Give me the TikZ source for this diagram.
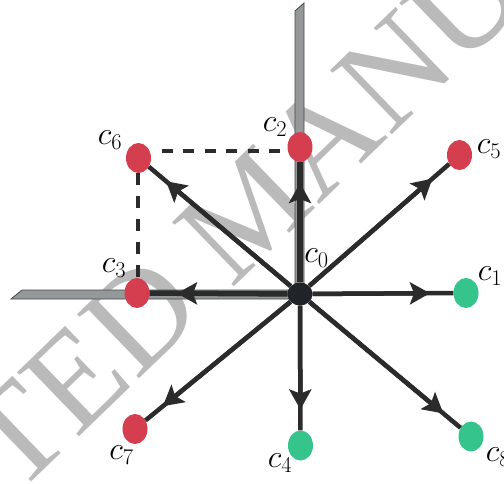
\RequirePackage{fix-cm}
\documentclass[tikz,border=0pt]{standalone}
\usepackage{fontspec}
\newfontfamily\wmfont{Liberation Serif}
\usetikzlibrary{shapes.geometric,arrows.meta,calc}
\definecolor{nodered}{RGB}{212,62,79}
\definecolor{nodegreen}{RGB}{52,196,140}
\definecolor{centerdark}{RGB}{32,36,40}
\definecolor{linedark}{RGB}{43,43,43}
\definecolor{barfill}{RGB}{148,152,152}
\definecolor{baredge}{RGB}{70,72,72}
\definecolor{wmgray}{RGB}{186,186,186}
\begin{document}
\begin{tikzpicture}[x=1pt,y=-1pt,
  dot/.style={ellipse, inner sep=0pt, minimum width=25pt, minimum height=30pt},
  reddot/.style={dot, fill=nodered},
  greendot/.style={dot, fill=nodegreen},
  lbl/.style={inner sep=0pt, font=\fontsize{32}{36}\selectfont},
  spoke/.style={draw=linedark, line width=4.5pt},
  thickspoke/.style={draw=linedark, line width=5.5pt},
  tipline/.style={draw=linedark, line width=4.5pt, -{Stealth[length=20pt,width=22pt,inset=4pt]}},
  dashline/.style={draw=linedark, line width=4pt},
  bar/.style={fill=barfill, draw=baredge, line width=0.8pt},
]
\useasboundingbox (0,0) rectangle (504,483);
% watermark
\node[rotate=44, text=wmgray, font=\wmfont\fontsize{136}{136}\selectfont, inner sep=0pt] (wm) at (251,209) {ACCEPTED MANUSCRIPT};
% gray bars
\draw[bar] (295,11) -- (304,3) -- (304,294) -- (295,294) -- cycle;
\draw[bar] (22,290) -- (300,290) -- (300,299) -- (11,299) -- cycle;
% nodes
\node[dot, fill=centerdark, minimum width=25pt, minimum height=23pt] (c0) at (300,294) {};
\node[greendot] (c1) at (466,293) {};
\node[reddot] (c2) at (300,147) {};
\node[reddot] (c3) at (137,293) {};
\node[greendot] (c4) at (300.5,445.5) {};
\node[reddot] (c5) at (459.5,155) {};
\node[reddot] (c6) at (138.5,158) {};
\node[reddot] (c7) at (135,429) {};
\node[greendot] (c8) at (471,436.5) {};
% labels
\node[lbl] (l0) at (316.5,258.5) {$c_{0}$};
\node[lbl] (l1) at (490,276.5) {$c_{1}$};
\node[lbl] (l2) at (275,127.5) {$c_{2}$};
\node[lbl] (l3) at (114,268.5) {$c_{3}$};
\node[lbl] (l4) at (280,463) {$c_{4}$};
\node[lbl] (l5) at (489,149.5) {$c_{5}$};
\node[lbl] (l6) at (110,140.5) {$c_{6}$};
\node[lbl] (l7) at (121.5,455) {$c_{7}$};
\node[lbl] (l8) at (498,457.5) {$c_{8}$};
% arrow tip positions
\foreach \i in {1,2,4,5,6,7,8} {
  \coordinate (t\i) at ($(c\i.center)!36pt!(c0.center)$);
}
\coordinate (t3) at ($(c3.center)!40pt!(c0.center)$);
% spokes
\foreach \i in {1,4,5,6,7,8} {
  \draw[spoke] (c0) -- (c\i);
  \draw[tipline] (c0) -- (t\i);
}
\foreach \i in {2,3} {
  \draw[thickspoke] (c0) -- (c\i);
  \draw[tipline] (c0) -- (t\i);
}
% dashed guides
\draw[dashline, dash pattern=on 11pt off 10.5pt, dash phase=11pt] (c6.east |- 0,151) -- (c2.west |- 0,151);
\draw[dashline, dash pattern=on 11.5pt off 11.5pt] (c6.south -| 137.5,0) -- (c3.north -| 137.5,0);
\end{tikzpicture}
\end{document}
